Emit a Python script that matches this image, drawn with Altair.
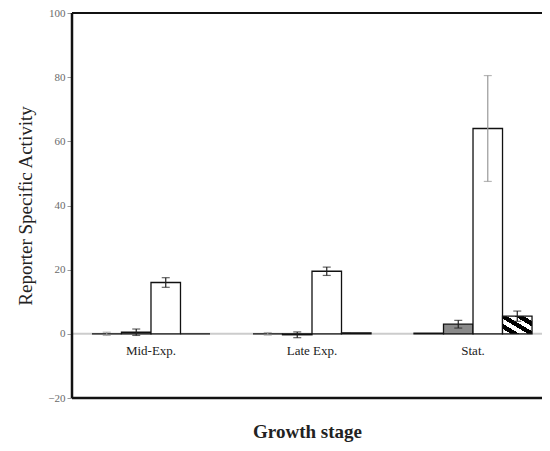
import altair as alt
import pandas as pd

stages = ["Mid-Exp.", "Late Exp.", "Stat."]
series = ["A", "B", "C", "D"]
# values per stage for each series
val_A = [0.0, 0.0, 0.2]
val_B = [0.5, -0.3, 3.0]
val_C = [16.0, 19.5, 64.0]
val_D = [0.0, 0.3, 5.5]
err_A = [0.5, 0.4, 0.0]
err_B = [1.0, 0.9, 1.2]
err_C = [1.5, 1.3, 16.5]
err_D = [0.0, 0.0, 1.6]
err_color = [["#999999", "#222222", "#222222", "#999999"],
             ["#999999", "#222222", "#222222", "#222222"],
             ["#222222", "#222222", "#999999", "#222222"]]

rows = []
vals = {"A": val_A, "B": val_B, "C": val_C, "D": val_D}
errs = {"A": err_A, "B": err_B, "C": err_C, "D": err_D}
for i, st in enumerate(stages):
    for j, s in enumerate(series):
        v = vals[s][i]
        e = errs[s][i]
        rows.append({"stage": st, "series": s, "value": v,
                     "lo": v - e, "hi": v + e, "ecol": err_color[i][j],
                     "has_err": e > 0})
df = pd.DataFrame(rows)

FONT = "Liberation Serif"
W, H = 470, 385

xscale = alt.Scale(domain=stages, paddingInner=0.267, paddingOuter=0.093,
                   align=0.667)
oscale = alt.Scale(domain=series, paddingInner=0, paddingOuter=0)
yscale = alt.Scale(domain=[-20, 100], nice=False, zero=False)

X = alt.X("stage:N", scale=xscale, sort=stages,
          axis=alt.Axis(labels=False, ticks=False, domain=False,
                        title="Growth stage", titleFont=FONT, titleFontSize=19,
                        titleFontWeight="bold", titleColor="#222222",
                        titlePadding=24))
XO = alt.XOffset("series:N", scale=oscale)
Y = alt.Y("value:Q", scale=yscale,
          axis=alt.Axis(values=[-20, 0, 20, 40, 60, 80, 100], grid=False,
                        domain=False, tickColor="#999999", tickSize=5,
                        labelColor="#6a6a6a", labelFont=FONT, labelFontSize=11,
                        labelPadding=2,
                        title="Reporter Specific Activity", titleFont=FONT,
                        titleFontSize=19, titleFontWeight="normal",
                        titleColor="#222222", titlePadding=12))

base = alt.Chart(df)

zero_line = alt.Chart(pd.DataFrame({"y": [0]})).mark_rule(
    color="#cccccc", strokeWidth=2).encode(
    y=alt.Y("y:Q", scale=yscale), x=alt.value(0), x2=alt.value(W))

plain_bars = base.transform_filter(alt.datum.series != "D").mark_bar(
    stroke="#111111", strokeWidth=1.3).encode(
    x=X, xOffset=XO, y=Y, y2=alt.datum(0),
    fill=alt.Fill("series:N", scale=alt.Scale(domain=series[:3],
                  range=["#d0d0d0", "#8a8a8a", "#ffffff"]), legend=None))

hatch = alt.LinearGradient(
    gradient="linear", x1=0, y1=1, x2=1, y2=0,
    stops=[alt.GradientStop(offset=0, color="white"),
           alt.GradientStop(offset=0.14, color="white"),
           alt.GradientStop(offset=0.14, color="black"),
           alt.GradientStop(offset=0.29, color="black"),
           alt.GradientStop(offset=0.29, color="white"),
           alt.GradientStop(offset=0.43, color="white"),
           alt.GradientStop(offset=0.43, color="black"),
           alt.GradientStop(offset=0.57, color="black"),
           alt.GradientStop(offset=0.57, color="white"),
           alt.GradientStop(offset=0.71, color="white"),
           alt.GradientStop(offset=0.71, color="black"),
           alt.GradientStop(offset=0.86, color="black"),
           alt.GradientStop(offset=0.86, color="white"),
           alt.GradientStop(offset=1, color="white")])

hatch_bars = base.transform_filter(alt.datum.series == "D").mark_bar(
    stroke="#111111", strokeWidth=1.3, fill=hatch).encode(
    x=X, xOffset=XO, y=Y, y2=alt.datum(0))

err_df = base.transform_filter(alt.datum.has_err)
err_rule = err_df.mark_rule(strokeWidth=1.2).encode(
    x=X, xOffset=XO, y=alt.Y("lo:Q", scale=yscale), y2="hi:Q",
    color=alt.Color("ecol:N", scale=None))
err_top = err_df.mark_tick(thickness=1.2, size=8).encode(
    x=X, xOffset=XO, y=alt.Y("hi:Q", scale=yscale),
    color=alt.Color("ecol:N", scale=None))
err_bot = err_df.mark_tick(thickness=1.2, size=8).encode(
    x=X, xOffset=XO, y=alt.Y("lo:Q", scale=yscale),
    color=alt.Color("ecol:N", scale=None))

labels_df = pd.DataFrame({"stage": stages, "y": [0, 0, 0]})
cat_labels = alt.Chart(labels_df).mark_text(
    font=FONT, fontSize=13, color="#222222", dy=17, baseline="middle").encode(
    x=alt.X("stage:N", scale=xscale, sort=stages), y=alt.Y("y:Q", scale=yscale),
    text="stage:N")

frame_left = alt.Chart(pd.DataFrame({"a": [0]})).mark_rule(
    color="#111111", strokeWidth=2.5).encode(
    x=alt.value(0), y=alt.value(0), y2=alt.value(H))
frame_top = alt.Chart(pd.DataFrame({"a": [0]})).mark_rule(
    color="#111111", strokeWidth=2).encode(
    x=alt.value(0), x2=alt.value(W + 10), y=alt.value(0))
frame_bot = alt.Chart(pd.DataFrame({"a": [0]})).mark_rule(
    color="#111111", strokeWidth=2.5).encode(
    x=alt.value(0), x2=alt.value(W + 10), y=alt.value(H))

chart = alt.layer(
    zero_line, plain_bars, hatch_bars, err_rule, err_top, err_bot,
    cat_labels, frame_left, frame_top, frame_bot
).properties(
    width=W, height=H,
    autosize=alt.AutoSizeParams(type="none"),
    padding={"left": 64, "top": 5, "right": 0, "bottom": 45}
).configure_view(stroke=None).configure(background="white")

chart.save("out.html", embed_options={"renderer": "svg", "actions": False})
